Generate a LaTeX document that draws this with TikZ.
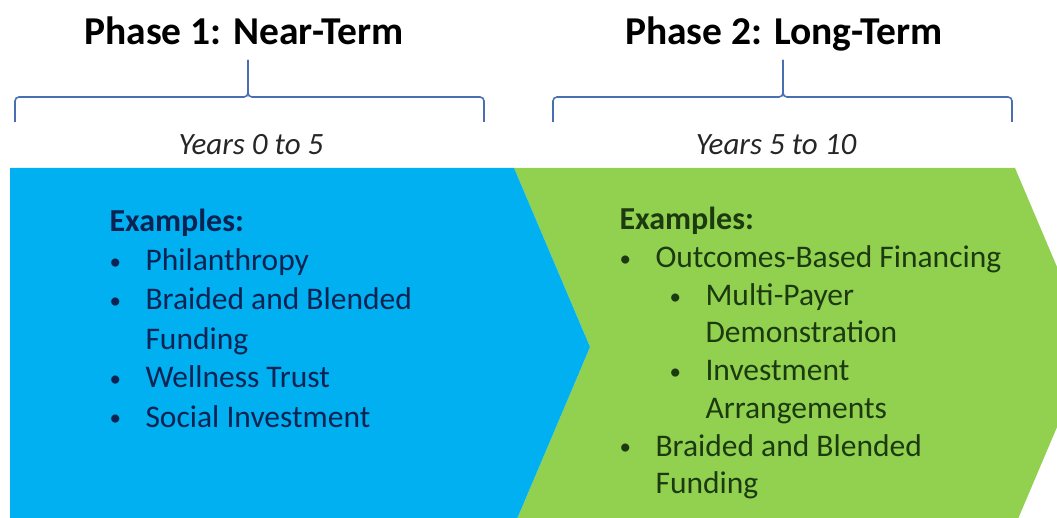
\documentclass[tikz,border=0pt]{standalone}
\usepackage{fontspec}
\setmainfont{Carlito}
\usepackage{tikz}
\usetikzlibrary{positioning}
\usepackage{xcolor}

\definecolor{nearblue}{HTML}{00B0F0}
\definecolor{longgreen}{HTML}{92D050}
\definecolor{bracecol}{HTML}{4A6FB0}
\definecolor{bluetext}{HTML}{0B2352}
\definecolor{greentext}{HTML}{1C3A10}

\tikzset{
  phase/.style={anchor=base,font=\fontsize{39.5}{42}\selectfont\bfseries,text=black},
  years/.style={anchor=base,font=\fontsize{31}{34}\selectfont\itshape,text=black!85},
  head/.style={anchor=base west,font=\fontsize{32}{38}\selectfont\bfseries},
  item/.style={anchor=base west,font=\fontsize{31.5}{38}\selectfont},
  dot/.style={anchor=base west,font=\fontsize{23}{26}\selectfont},
  bracket/.style={draw=bracecol,line width=1.6pt,rounded corners=4pt},
}

\begin{document}
\begin{tikzpicture}[x=1pt,y=-1pt]
\useasboundingbox (0,0) rectangle (1057,518);
\clip (0,0) rectangle (1057,518);

% the two chevrons
\fill[longgreen] (514,168) -- (1015,168) -- (1091,347) -- (1015,526)
  -- (514,526) -- (590,347) -- cycle;
\fill[nearblue] (10,168) -- (514,168) -- (590,347) -- (514,526)
  -- (10,526) -- cycle;

% phase titles and time spans
\node[phase] (ph1) at (244,45) {Phase 1: Near-Term};
\node[phase] (ph2) at (784,45) {Phase 2: Long-Term};
\node[years] (yr1) at (251,155) {Years 0 to 5};
\node[years] (yr2) at (776,155) {Years 5 to 10};

% brackets
\draw[bracket] (15,122) -- (15,97) -- (248,97) -- (248,60);
\draw[bracket] (248,60) -- (248,97) -- (484,97) -- (484,122);
\draw[bracket] (553,122) -- (553,97) -- (783,97) -- (783,60);
\draw[bracket] (783,60) -- (783,97) -- (1012,97) -- (1012,122);

% near-term examples
\begin{scope}[text=bluetext]
\node[head] (ex1) at (106,232) {Examples:};
\foreach \y [count=\i] in {271,310,388,427}
  \node[dot] (b1\i) at (106,\y-1.5) {\textbullet};
\node[item] (p1) at (142,271) {Philanthropy};
\node[item] (p2) at (142,310) {Braided and Blended};
\node[item] (p3) at (142,349) {Funding};
\node[item] (p4) at (142,388) {Wellness Trust};
\node[item] (p5) at (142,427) {Social Investment};
\end{scope}

% long-term examples
\begin{scope}[text=greentext]
\node[head] (ex2) at (616,230) {Examples:};
\node[dot] (b21) at (616,266.5) {\textbullet};
\node[item] (q1) at (652,268) {Outcomes-Based Financing};
\node[dot] (b22) at (666,304.5) {\textbullet};
\node[item] (q2) at (702,306) {Multi-Payer};
\node[item] (q3) at (702,343) {Demonstration};
\node[dot] (b23) at (666,379.5) {\textbullet};
\node[item] (q4) at (702,381) {Investment};
\node[item] (q5) at (702,418) {Arrangements};
\node[dot] (b24) at (616,454.5) {\textbullet};
\node[item] (q6) at (652,456) {Braided and Blended};
\node[item] (q7) at (652,493) {Funding};
\end{scope}
\end{tikzpicture}
\end{document}
